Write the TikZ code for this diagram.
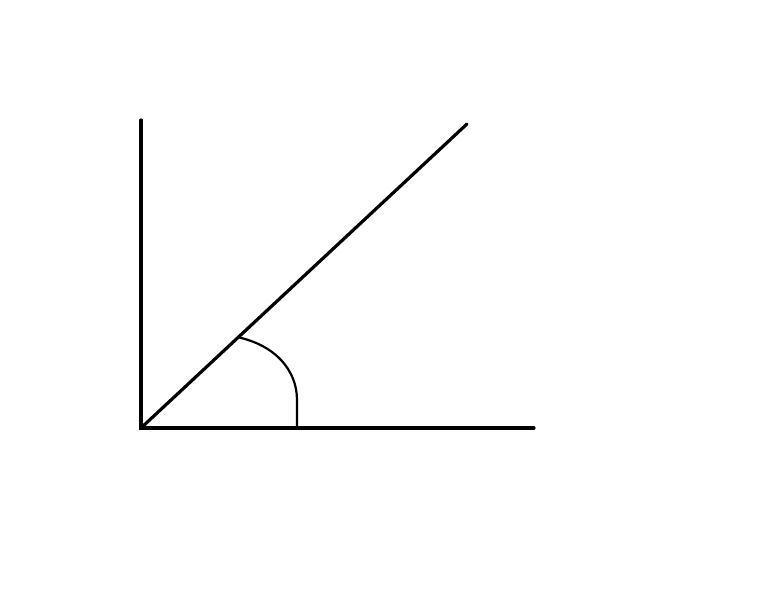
\documentclass[tikz,border=0pt]{standalone}
\begin{document}
\begin{tikzpicture}[x=0.5pt,y=-0.5pt,
  axis/.style={line width=1.6pt,line cap=round},
  arcline/.style={line width=1.1pt}]
\useasboundingbox (0,0) rectangle (768,614);
\coordinate (O) at (141,428);
\coordinate (V) at (141,120);
\coordinate (H) at (534,428);
\coordinate (D) at (467,124);
\coordinate (A1) at (237,337);
\coordinate (A2) at (297,428);
\draw[axis] (V) -- (O) -- (H);
\draw[axis] (O) -- (D);
\draw[arcline] (A1) .. controls (275,345) and (297,370) .. (297,400) -- (A2);
\end{tikzpicture}
\end{document}
